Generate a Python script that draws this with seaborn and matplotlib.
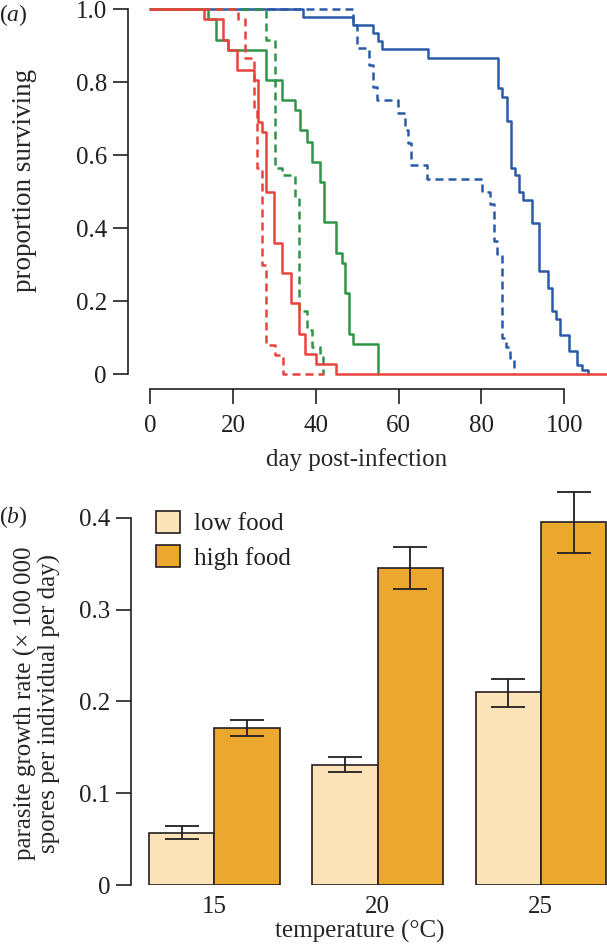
import matplotlib
matplotlib.use("Agg")
import pandas as pd
import seaborn as sns
from matplotlib import pyplot as plt
from matplotlib.patches import Patch

# ---- panel (a): survival curves, day of each step and proportion surviving after it
red_solid_day = [0, 12.9, 17.7, 18.9, 20.9, 25.2, 26.1, 27.1, 27.9, 30.0, 31.9, 34.0, 36.0, 37.5, 40.0, 44.9, 112]
red_solid_surv = [1.0, 0.973, 0.916, 0.889, 0.834, 0.806, 0.692, 0.665, 0.500, 0.359, 0.277, 0.195, 0.112, 0.055, 0.028, 0.0, 0.0]

red_dash_day = [0, 21.2, 23.0, 25.2, 25.7, 26.9, 27.9, 30.2, 32.2, 42.0]
red_dash_surv = [1.0, 0.973, 0.866, 0.733, 0.565, 0.300, 0.080, 0.053, 0.0, 0.0]

green_solid_day = [0, 14.1, 15.9, 18.9, 27.9, 31.9, 35.0, 36.2, 37.8, 39.0, 41.0, 42.0, 44.9, 46.3, 47.1, 48.1, 49.1, 55.0]
green_solid_surv = [1.0, 0.973, 0.916, 0.889, 0.806, 0.751, 0.724, 0.669, 0.637, 0.582, 0.528, 0.418, 0.333, 0.304, 0.222, 0.110, 0.083, 0.0]

green_dash_day = [0, 27.9, 30.1, 31.8, 35.0, 36.0, 38.0, 39.0, 40.9, 41.8]
green_dash_surv = [1.0, 0.916, 0.564, 0.546, 0.482, 0.174, 0.121, 0.076, 0.048, 0.0]

blue_solid_day = [0, 37.0, 49.1, 53.9, 55.1, 55.9, 67.0, 84.1, 85.0, 86.1, 87.1, 88.1, 89.1, 90.0, 92.1,
                  94.0, 96.1, 97.1, 98.0, 99.0, 101.2, 103.1, 104.2, 105.8]
blue_solid_surv = [1.0, 0.980, 0.957, 0.934, 0.914, 0.890, 0.868, 0.784, 0.761, 0.695, 0.564, 0.545, 0.500, 0.478, 0.414,
                   0.284, 0.238, 0.174, 0.151, 0.108, 0.065, 0.026, 0.013, 0.0]

blue_dash_day = [0, 49.1, 49.9, 52.9, 53.9, 54.9, 59.9, 61.5, 62.2, 62.9, 66.9, 80.1, 82.1, 83.1, 83.8, 84.9, 85.9, 86.9, 87.9]
blue_dash_surv = [1.0, 0.957, 0.893, 0.847, 0.786, 0.752, 0.715, 0.669, 0.633, 0.573, 0.535, 0.500, 0.467, 0.365, 0.329,
                  0.100, 0.076, 0.044, 0.0]

# ---- panel (b): parasite growth rate with error bar limits
temps = ["15", "20", "25"]
low_rate = [0.057, 0.131, 0.210]
low_lo = [0.050, 0.123, 0.194]
low_hi = [0.064, 0.140, 0.225]
high_rate = [0.171, 0.345, 0.395]
high_lo = [0.162, 0.323, 0.362]
high_hi = [0.180, 0.368, 0.428]

TEMP_COLORS = {"15": "#2B5BA8", "20": "#2E9548", "25": "#E8443D"}
FOOD_COLORS = {"low food": "#FDE4B8", "high food": "#EBA72E"}
INK = "#231F20"
W, H = 607, 946
TICK_FS = 18


def curve(days, surv, temp, food):
    return pd.DataFrame({"day": days, "surv": surv, "temp": temp, "food": food})


surv_df = pd.concat(
    [
        curve(blue_dash_day, blue_dash_surv, "15", "high"),
        curve(blue_solid_day, blue_solid_surv, "15", "low"),
        curve(green_dash_day, green_dash_surv, "20", "high"),
        curve(green_solid_day, green_solid_surv, "20", "low"),
        curve(red_dash_day, red_dash_surv, "25", "high"),
        curve(red_solid_day, red_solid_surv, "25", "low"),
    ],
    ignore_index=True,
)

rate_df = pd.DataFrame(
    {
        "temp": temps * 2,
        "rate": low_rate + high_rate,
        "food": ["low food"] * 3 + ["high food"] * 3,
    }
)

sns.set_style("ticks")
plt.rcParams["font.family"] = ["Liberation Serif", "DejaVu Serif"]
plt.rcParams["mathtext.fontset"] = "custom"
plt.rcParams["mathtext.it"] = "Liberation Serif:italic"
plt.rcParams["mathtext.rm"] = "Liberation Serif"
plt.rcParams["axes.edgecolor"] = INK
plt.rcParams["xtick.color"] = INK
plt.rcParams["ytick.color"] = INK
plt.rcParams["text.color"] = INK

fig = plt.figure(figsize=(W / 100, H / 100), dpi=100)

# ---------------- (a)
ax1 = fig.add_axes([127.7 / W, 1 - 389 / H, 1 - 127.7 / W, 389 / H])
sns.lineplot(
    data=surv_df, x="day", y="surv", hue="temp", style="food",
    hue_order=["15", "20", "25"], style_order=["high", "low"],
    palette=TEMP_COLORS, dashes={"high": (3.2, 2.0), "low": ""},
    estimator=None, sort=False, drawstyle="steps-post",
    linewidth=1.8, legend=False, ax=ax1,
)
ax1.set_xlim(-5.4, 110.3)
ax1.set_ylim(-0.040, 1.0255)
ax1.spines[["top", "right"]].set_visible(False)
ax1.spines["left"].set_bounds(0, 1)
ax1.spines["bottom"].set_bounds(0, 100)
for s in ("left", "bottom"):
    ax1.spines[s].set_linewidth(1.2)
ax1.set_xticks([0, 20, 40, 60, 80, 100])
ax1.set_yticks([0, 0.2, 0.4, 0.6, 0.8, 1.0])
ax1.set_yticklabels(["0", "0.2", "0.4", "0.6", "0.8", "1.0"])
ax1.tick_params(axis="both", length=11, width=1.2, labelsize=TICK_FS)
ax1.tick_params(axis="x", pad=8)
ax1.tick_params(axis="y", pad=4)
ax1.set_xlabel("day post-infection", fontsize=18)
ax1.set_ylabel("proportion surviving", fontsize=19.5)
ax1.xaxis.set_label_coords(0.478, -0.152)
ax1.yaxis.set_label_coords(-0.19, 0.535)

# ---------------- (b)
ax2 = fig.add_axes([131 / W, 1 - 885 / H, 1 - 131 / W, (885 - 472) / H])
sns.barplot(
    data=rate_df, x="temp", y="rate", hue="food", order=temps,
    hue_order=["low food", "high food"], palette=FOOD_COLORS,
    saturation=1, width=0.8, errorbar=None, edgecolor=INK,
    linewidth=1.2, legend=False, ax=ax2,
)
for cont, lo, hi in zip(ax2.containers, [low_lo, high_lo], [low_hi, high_hi]):
    xs = [b.get_x() + b.get_width() / 2 for b in cont]
    ys = [b.get_height() for b in cont]
    yerr = [[y - l for y, l in zip(ys, lo)], [h - y for y, h in zip(ys, hi)]]
    ax2.errorbar(xs, ys, yerr=yerr, fmt="none", ecolor=INK,
                 elinewidth=1.3, capsize=12, capthick=1.3)

ax2.set_xlim(-0.51, 2.405)
ax2.set_ylim(0, 0.45)
ax2.spines[["top", "right", "bottom"]].set_visible(False)
ax2.spines["left"].set_bounds(0, 0.4)
ax2.spines["left"].set_linewidth(1.2)
ax2.set_yticks([0, 0.1, 0.2, 0.3, 0.4])
ax2.set_yticklabels(["0", "0.1", "0.2", "0.3", "0.4"])
ax2.tick_params(axis="y", length=11, width=1.2, labelsize=TICK_FS, pad=4)
ax2.tick_params(axis="x", length=0, labelsize=TICK_FS, pad=8)
ax2.set_xlabel("temperature (°C)", fontsize=18)
ax2.set_ylabel("parasite growth rate (\u00d7 100\u2009000\nspores per individual per day)",
               fontsize=18, linespacing=1.05)
ax2.xaxis.set_label_coords(0.481, -0.085)
ax2.yaxis.set_label_coords(-0.147, 0.44)

handles = [Patch(facecolor=FOOD_COLORS[k], edgecolor=INK, linewidth=1.2) for k in ["low food", "high food"]]
ax2.legend(handles, ["low food", "high food"], loc="upper left",
           bbox_to_anchor=(156 / W, 1 - 511 / H), bbox_transform=fig.transFigure,
           frameon=False, fontsize=TICK_FS, handlelength=0.95, handleheight=0.95,
           handletextpad=0.55, labelspacing=0.4, borderpad=0, borderaxespad=0)

fig.text(13 / W, 1 - 15 / H, r"($\mathit{a}$)", ha="center", va="center", fontsize=17)
fig.text(13 / W, 1 - 517 / H, r"($\mathit{b}$)", ha="center", va="center", fontsize=17)

fig.savefig("out.png", dpi=100)
